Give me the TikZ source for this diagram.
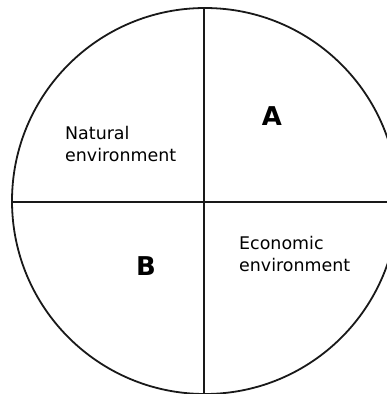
\documentclass[tikz,border=0pt]{standalone}
\usepackage{fontspec}
\setmainfont{DejaVu Sans}
\tikzset{
  outline/.style={line width=1.8bp, draw=black!90},
  label/.style={inner sep=0pt, anchor=base west, align=left, font=\fontsize{17.5}{22}\selectfont},
  letter/.style={inner sep=0pt, font=\fontsize{26}{30}\selectfont\bfseries},
}
\begin{document}
\begin{tikzpicture}[x=1bp,y=-1bp]
\useasboundingbox (0,0) rectangle (387,394);
\clip (0,0) rectangle (387,394);
\coordinate (c) at (205,201);
\draw[outline] (c) circle[radius=193];
\coordinate (top) at (204,8);
\coordinate (bot) at (204,400);
\coordinate (lft) at (12,202);
\coordinate (rgt) at (400,202);
\draw[outline] (top) -- (bot);
\draw[outline] (lft) -- (rgt);
\node[label] (nat) at (65,161) {Natural\\environment};
\node[label] (eco) at (239,271) {Economic\\environment};
\node[letter] (A) at (272,116.5) {A};
\node[letter] (B) at (146,266) {B};
\end{tikzpicture}
\end{document}
